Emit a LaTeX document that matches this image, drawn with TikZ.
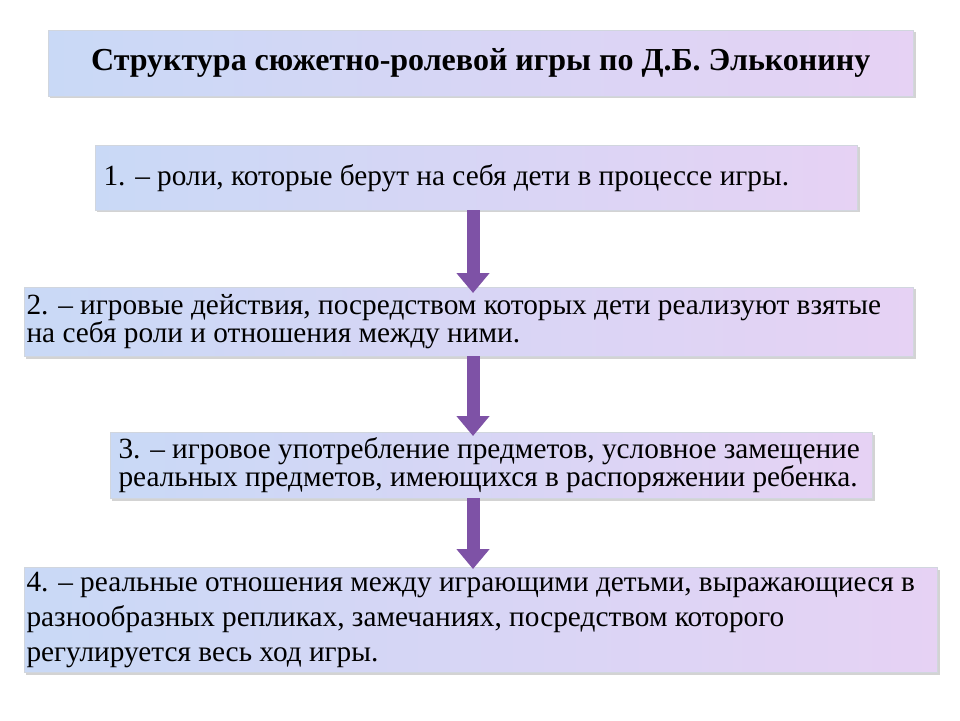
\documentclass[tikz,border=0pt]{standalone}
\usepackage{fontspec}
\setmainfont{Liberation Serif}
\usetikzlibrary{shadows,arrows.meta}
\definecolor{boxl}{HTML}{C9D9F6}
\definecolor{boxr}{HTML}{E6D2F4}
\definecolor{arrowc}{HTML}{7E52A6}
\tikzset{
  stepbox/.style={draw=boxl!70!black!40, left color=boxl, right color=boxr, drop shadow={opacity=0.35}, anchor=north west, inner sep=0pt, align=left},
  flow/.style={line width=13pt, draw=arrowc, -{Triangle[width=32pt,length=20pt]}}
}
\begin{document}
\begin{tikzpicture}[x=1pt,y=-1pt]
    \useasboundingbox (0,0) rectangle (960,720);

    % title
    \node[stepbox, minimum width=865pt, minimum height=66pt, align=center] (title) at (48,30)
        {\fontsize{32}{36}\selectfont\bfseries Структура сюжетно-ролевой игры по Д.Б. Эльконину};

    % steps
    \node[stepbox, minimum width=762pt, minimum height=65pt] (one) at (95,145) {};
    \node[anchor=west, font=\fontsize{29.3}{30}\selectfont] at (one.west -| 100,0) {1. – роли, которые берут на себя дети в процессе игры.};

    \node[stepbox, minimum width=889pt, minimum height=69pt] (two) at (24,287) {};
    \node[anchor=west, align=left, font=\fontsize{29.3}{25}\selectfont] at (two.west -| 23,0)
        {2. – игровые действия, посредством которых дети реализуют взятые\\на себя роли и отношения между ними.};

    \node[stepbox, minimum width=762pt, minimum height=66pt] (three) at (110,432) {};
    \node[anchor=west, align=left, font=\fontsize{29.3}{25}\selectfont] at (three.west -| 115,0)
        {3. – игровое употребление предметов, условное замещение\\реальных предметов, имеющихся в распоряжении ребенка.};

    \node[stepbox, minimum width=913pt, minimum height=105pt] (four) at (24,567) {};
    \node[anchor=west, align=left, font=\fontsize{29.3}{35}\selectfont] at (four.west -| 23,0)
        {4. – реальные отношения между играющими детьми, выражающиеся в\\разнообразных репликах, замечаниях, посредством которого\\регулируется весь ход игры.};

    % arrows
    \coordinate (ax) at (473,0);
    \draw[flow] (one.south -| ax) -- ([yshift=-6pt]two.north -| ax);
    \draw[flow] (two.south -| ax) -- ([yshift=-4pt]three.north -| ax);
    \draw[flow] (three.south -| ax) -- ([yshift=-2pt]four.north -| ax);
\end{tikzpicture}
\end{document}
